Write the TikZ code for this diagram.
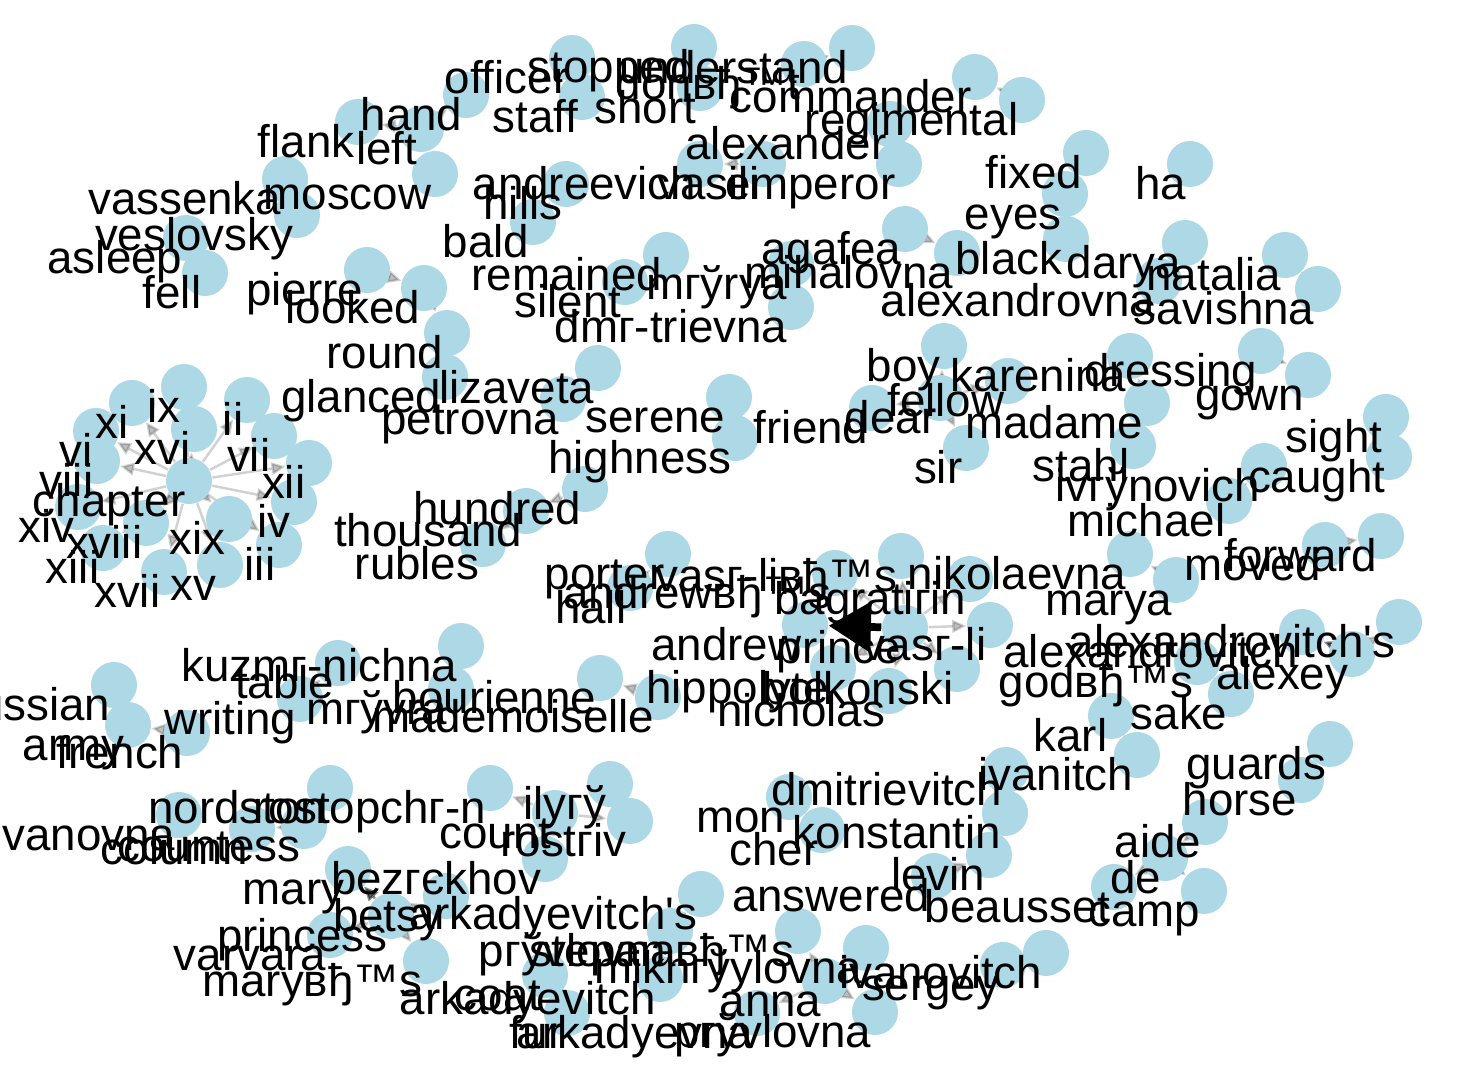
\documentclass[tikz,border=0pt]{standalone}
\usepackage{fontspec}
\setmainfont{Liberation Sans}[Ligatures=TeXOff]
\usepackage{tikz}
\usetikzlibrary{arrows.meta}
\usepackage{xcolor}
\definecolor{nodeblue}{RGB}{173,216,230}
\newcommand{\wordfont}{\fontsize{13}{13}\selectfont}
\pgfdeclarelayer{edges}
\pgfdeclarelayer{labels}
\pgfsetlayers{edges,main,labels}
\tikzset{
  dot/.style={circle, fill=nodeblue, minimum size=0.46cm, inner sep=0pt},
  word/.style={anchor=north east, inner sep=0pt, text height=0.327cm, text depth=0.09cm,
    font=\wordfont, xshift=-0.03cm, yshift=-0.018cm},
  link/.style={draw=black, draw opacity=0.18, fill opacity=0.25, line width=0.7pt,
    -{Triangle[length=4pt,width=3.6pt]}},
  strong/.style={link, draw opacity=0.45, fill opacity=0.6},
  heavy/.style={draw=black, line width=2.2pt, -{Triangle[length=12pt,width=14pt]}},
}
% a word: circle at the point, label hanging to its lower left
\newcommand{\wrd}[4]{%
  \node[dot] (#1) at (#2,#3) {};
  \begin{pgfonlayer}{labels}\node[word] (#1-t) at (#1.center) {#4};\end{pgfonlayer}}

\begin{document}
\begin{tikzpicture}[x=0.01cm, y=-0.01cm]
  \useasboundingbox (0,0) rectangle (1465,1075);
  % top
  \wrd{hand}{466}{95}{hand}
  \wrd{left}{421}{129}{left}
  \wrd{flank}{358}{122}{flank}
  \wrd{officer}{572}{58}{officer}
  \wrd{staff}{582}{97}{staff}
  \wrd{stopped}{694}{47}{stopped}
  \wrd{short}{700}{88}{short}
  \wrd{understand}{852}{48}{understand}
  \wrd{dont}{804}{64}{donвђ™t}
  \wrd{commander}{975}{77}{commander}
  \wrd{regimental}{1022}{100}{regimental}
  \wrd{alexander}{890}{124}{alexander}
  \wrd{emperor}{899}{164}{emperor}
  \wrd{andreevich}{700}{164}{andreevich}
  \wrd{vasili}{763}{164}{vasili}
  \wrd{hills}{566}{184}{hills}
  \wrd{bald}{533}{222}{bald}
  \wrd{moscow}{435}{174}{moscow}
  \wrd{vassenka}{285}{179}{vassenka}
  \wrd{veslovsky}{297}{215}{veslovsky}
  \wrd{asleep}{186}{238}{asleep}
  \wrd{fell}{205}{273}{fell}
  \wrd{pierre}{367}{270}{pierre}
  \wrd{looked}{424}{288}{looked}
  \wrd{round}{447}{333}{round}
  \wrd{glanced}{445}{377}{glanced}
  \wrd{remained}{666}{255}{remained}
  \wrd{silent}{625}{282}{silent}
  \wrd{marya1}{791}{264}{mгўrya}
  \wrd{dmitrievna}{791}{307}{dmг-trievna}
  \wrd{agafea}{905}{229}{agafea}
  \wrd{mihalovna}{957}{253}{mihalovna}
  \wrd{fixed}{1086}{153}{fixed}
  \wrd{eyes}{1065}{194}{eyes}
  \wrd{black}{1066}{239}{black}
  \wrd{ha}{1190}{164}{ha}
  \wrd{darya}{1185}{243}{darya}
  \wrd{alexandrovna}{1159}{281}{alexandrovna}
  \wrd{natalia}{1285}{255}{natalia}
  \wrd{savishna}{1318}{289}{savishna}
  % middle
  \wrd{lizaveta}{598}{368}{lizaveta}
  \wrd{petrovna}{563}{399}{petrovna}
  \wrd{serene}{729}{397}{serene}
  \wrd{highness}{735}{438}{highness}
  \wrd{friend}{872}{408}{friend}
  \wrd{boy}{944}{346}{boy}
  \wrd{dear}{940}{398}{dear}
  \wrd{fellow}{1008}{381}{fellow}
  \wrd{sir}{966}{448}{sir}
  \wrd{karenina}{1130}{356}{karenina}
  \wrd{dressing}{1261}{351}{dressing}
  \wrd{gown}{1308}{375}{gown}
  \wrd{madame}{1147}{403}{madame}
  \wrd{stahl}{1133}{446}{stahl}
  \wrd{sight}{1386}{417}{sight}
  \wrd{caught}{1389}{457}{caught}
  \wrd{ivanovich}{1264}{466}{ivгўnovich}
  \wrd{michael}{1229}{501}{michael}
  \wrd{moved}{1325}{545}{moved}
  \wrd{forward}{1381}{536}{forward}
  \wrd{nikolaevna}{1130}{554}{nikolaevna}
  \wrd{marya}{1176}{580}{marya}
  % chapters
  \wrd{chapter}{189}{481}{chapter}
  \wrd{ix}{184}{387}{ix}
  \wrd{xi}{132}{403}{xi}
  \wrd{ii}{247}{400}{ii}
  \wrd{xvi}{194}{429}{xvi}
  \wrd{vi}{96}{431}{vi}
  \wrd{vii}{274}{436}{vii}
  \wrd{viii}{97}{461}{viii}
  \wrd{xii}{309}{463}{xii}
  \wrd{xiv}{78}{507}{xiv}
  \wrd{xviii}{146}{523}{xviii}
  \wrd{xix}{229}{519}{xix}
  \wrd{iv}{294}{502}{iv}
  \wrd{xiii}{103}{548}{xiii}
  \wrd{iii}{279}{545}{iii}
  \wrd{xvii}{164}{572}{xvii}
  \wrd{xv}{220}{565}{xv}
  \wrd{hundred}{585}{489}{hundred}
  \wrd{thousand}{526}{511}{thousand}
  \wrd{rubles}{483}{544}{rubles}
  % centre
  \wrd{porter}{668}{554}{porter}
  \wrd{vasilis}{901}{556}{vasг-liвђ™s}
  \wrd{andrews}{835}{573}{andrewвђ™s}
  \wrd{hall}{630}{588}{hall}
  \wrd{bagration}{970}{579}{bagratiгіn}
  \wrd{andrew}{805}{625}{andrew}
  \wrd{prince}{905}{628}{prince}
  \wrd{vasilii}{990}{625}{vasг-li}
  \wrd{hippolyte}{833}{668}{hippolyte}
  \wrd{bolkonski}{957}{669}{bolkonski}
  \wrd{nicholas}{889}{691}{nicholas}
  \wrd{bourienne}{600}{678}{bourienne}
  \wrd{mademoiselle}{658}{697}{mademoiselle}
  \wrd{mavra}{451}{689}{mгўvra}
  \wrd{kuzminichna}{461}{646}{kuzmг-nichna}
  \wrd{table}{338}{663}{table}
  \wrd{writing}{300}{699}{writing}
  \wrd{russian}{114}{685}{russian}
  \wrd{army}{128}{725}{army}
  \wrd{french}{187}{733}{french}
  % right
  \wrd{alexandrovitchs}{1399}{622}{alexandrovitch's}
  \wrd{alexandrovitch}{1302}{632}{alexandrovitch}
  \wrd{alexey}{1352}{654}{alexey}
  \wrd{gods}{1197}{662}{godвђ™s}
  \wrd{sake}{1231}{694}{sake}
  \wrd{karl}{1111}{716}{karl}
  \wrd{ivanitch}{1137}{755}{ivanitch}
  \wrd{guards}{1330}{744}{guards}
  \wrd{horse}{1301}{780}{horse}
  \wrd{aide}{1205}{822}{aide}
  \wrd{de}{1165}{858}{de}
  \wrd{camp}{1204}{891}{camp}
  \wrd{beausset}{1114}{887}{beausset}
  \wrd{dmitrievitch}{1006}{770}{dmitrievitch}
  \wrd{konstantin}{1005}{813}{konstantin}
  \wrd{levin}{989}{855}{levin}
  \wrd{answered}{934}{876}{answered}
  \wrd{mon}{789}{797}{mon}
  \wrd{cher}{822}{830}{cher}
  \wrd{sergey}{1003}{965}{sergey}
  \wrd{ivanovitch}{1046}{953}{ivanovitch}
  % bottom
  \wrd{nordston}{330}{788}{nordston}
  \wrd{rostopchin}{490}{788}{rostopchг-n}
  \wrd{ivanovna}{179}{815}{ivanovna}
  \wrd{column}{252}{829}{column}
  \wrd{countess}{304}{826}{countess}
  \wrd{count}{555}{813}{count}
  \wrd{rostov}{630}{821}{rostгіv}
  \wrd{ilya}{610}{784}{ilyгў}
  \wrd{bezukhov}{545}{859}{bezгєkhov}
  \wrd{mary}{348}{869}{mary}
  \wrd{betsy}{446}{896}{betsy}
  \wrd{princess}{391}{916}{princess}
  \wrd{arkadyevitchs}{701}{894}{arkadyevitch's}
  \wrd{varvara}{330}{935}{varvara}
  \wrd{marys}{426}{961}{maryвђ™s}
  \wrd{stepan}{670}{931}{stepan}
  \wrd{pavlovnas}{798}{931}{pгўvlovnaвђ™s}
  \wrd{arkadyevitch}{660}{979}{arkadyevitch}
  \wrd{coat}{545}{975}{coat}
  \wrd{fur}{567}{1013}{fur}
  \wrd{arkadyevna}{757}{1013}{arkadyevna}
  \wrd{pavlovna}{875}{1012}{pгўvlovna}
  \wrd{anna}{825}{981}{anna}
  \wrd{mikhaylovna}{866}{948}{mikhгўylovna}

  \begin{pgfonlayer}{edges}
    \draw[link] (left) -- (hand);
    \draw[link] (left) -- (flank);
    \draw[link] (vassenka) -- (veslovsky);
    \draw[link] (fell) -- (asleep);
    \draw[link] (pierre) -- (looked);
    \draw[link] (looked) -- (round);
    \draw[link] (glanced) -- (round);
    \draw[link] (staff) -- (officer);
    \draw[link] (stopped) -- (short);
    \draw[link] (dont) -- (understand);
    \draw[link] (regimental) -- (commander);
    \draw[link] (emperor) -- (alexander);
    \draw[link] (vasili) -- (andreevich);
    \draw[link] (bald) -- (hills);
    \draw[link] (remained) -- (silent);
    \draw[link] (marya1) -- (dmitrievna);
    \draw[link] (agafea) -- (mihalovna);
    \draw[link] (black) -- (eyes);
    \draw[link] (eyes) -- (fixed);
    \draw[link] (darya) -- (alexandrovna);
    \draw[link] (natalia) -- (savishna);
    \draw[link] (lizaveta) -- (petrovna);
    \draw[link] (serene) -- (highness);
    \foreach \w in {boy,fellow,friend,sir}
      \draw[link] (dear) -- (\w);
    \draw[link] (madame) -- (karenina);
    \draw[link] (madame) -- (stahl);
    \draw[link] (dressing) -- (gown);
    \draw[link] (caught) -- (sight);
    \draw[link] (michael) -- (ivanovich);
    \draw[link] (moved) -- (forward);
    \draw[link] (marya) -- (nikolaevna);
    \foreach \n in {ix,xi,ii,xvi,vi,vii,viii,xii,xiv,xviii,xix,iv,xiii,iii,xvii,xv}
      \draw[link] (chapter) -- (\n);
    \draw[link] (hundred) -- (thousand);
    \draw[link] (thousand) -- (rubles);
    \draw[link] (hall) -- (porter);
    \foreach \w in {andrews,bagration,vasilii,vasilis,hippolyte,bolkonski,nicholas}
      \draw[link] (prince) -- (\w);
    \draw[heavy] (prince) -- (andrew);
    \draw[link] (mademoiselle) -- (bourienne);
    \draw[link] (mavra) -- (kuzminichna);
    \draw[link] (writing) -- (table);
    \draw[link] (russian) -- (army);
    \draw[link] (french) -- (army);
    \draw[strong] (alexey) -- (alexandrovitch);
    \draw[link] (alexey) -- (alexandrovitchs);
    \draw[link] (gods) -- (sake);
    \draw[link] (karl) -- (ivanitch);
    \draw[link] (horse) -- (guards);
    \draw[link] (aide) -- (de);
    \draw[link] (de) -- (camp);
    \draw[link] (de) -- (beausset);
    \draw[link] (konstantin) -- (dmitrievitch);
    \draw[link] (konstantin) -- (levin);
    \draw[link] (answered) -- (levin);
    \draw[link] (mon) -- (cher);
    \draw[link] (sergey) -- (ivanovitch);
    \draw[link] (countess) -- (nordston);
    \draw[link] (countess) -- (column);
    \draw[link] (count) -- (rostopchin);
    \draw[link] (count) -- (rostov);
    \draw[link] (ilya) -- (rostov);
    \draw[link] (count) -- (bezukhov);
    \draw[strong] (princess) -- (mary);
    \foreach \w in {betsy,varvara,marys}
      \draw[link] (princess) -- (\w);
    \draw[strong] (stepan) -- (arkadyevitch);
    \draw[link] (stepan) -- (arkadyevitchs);
    \draw[link] (fur) -- (coat);
    \foreach \w in {arkadyevna,pavlovna,pavlovnas,mikhaylovna}
      \draw[link] (anna) -- (\w);
  \end{pgfonlayer}
\end{tikzpicture}
\end{document}
